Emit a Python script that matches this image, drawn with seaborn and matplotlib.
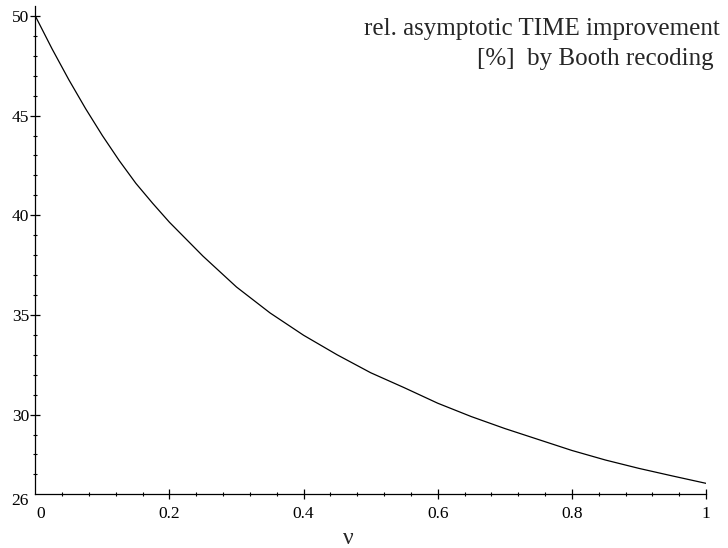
import numpy as np
import seaborn as sns
import matplotlib.pyplot as plt
import matplotlib.transforms as mtransforms
from matplotlib.ticker import MultipleLocator

# values
nu = [0.0, 0.025, 0.05, 0.075, 0.1, 0.125, 0.15, 0.175, 0.2, 0.25, 0.3, 0.35, 0.4,
      0.45, 0.5, 0.55, 0.6, 0.65, 0.7, 0.75, 0.8, 0.85, 0.9, 0.95, 1.0]
improvement = [50.0, 48.35, 46.8, 45.35, 44.0, 42.75, 41.6, 40.6, 39.65, 37.95, 36.4, 35.1, 33.98,
               33.0, 32.1, 31.35, 30.57, 29.9, 29.3, 28.75, 28.2, 27.72, 27.3, 26.92, 26.55]

x_major = [0, 0.2, 0.4, 0.6, 0.8, 1]
x_labels = ["0", "0.2", "0.4", "0.6", "0.8", "1"]
y_major = [26, 30, 35, 40, 45, 50]
y_labels = ["26", "30", "35", "40", "45", "50"]

title_lines = ["rel. asymptotic TIME improvement", "[%]  by Booth recoding "]

sns.set_style("ticks")
plt.rcParams['font.family'] = ['Liberation Serif', 'DejaVu Serif']

fig = plt.figure(figsize=(7.28, 5.48), dpi=100)
ax = fig.add_axes([0.0485, 0.098, 0.9213, 0.891])

sns.lineplot(x=nu, y=improvement, color="black", linewidth=0.9, ax=ax)

ax.set_xlim(0, 1)
ax.set_ylim(26, 50.5)
sns.despine(ax=ax)
for s in ["left", "bottom"]:
    ax.spines[s].set_linewidth(0.9)
    ax.spines[s].set_color("black")

ax.set_xticks(x_major)
ax.set_xticklabels(x_labels)
ax.set_yticks(y_major)
ax.set_yticklabels(y_labels)
ax.xaxis.set_minor_locator(MultipleLocator(0.04))
ax.yaxis.set_minor_locator(MultipleLocator(1))
ax.tick_params(which="major", direction="inout", length=7, width=0.9, labelsize=12.5, pad=1, colors="black")
ax.tick_params(which="minor", direction="inout", length=3.5, width=0.8, colors="black")
ax.tick_params(axis="x", which="major", pad=5)
# no tick mark at the corner
ax.yaxis.get_major_ticks()[0].tick1line.set_visible(False)
ax.xaxis.get_major_ticks()[0].tick1line.set_visible(False)

# corner labels sit a little off the axes, as in the original
lbl0 = ax.get_xticklabels()[0]
lbl0.set_transform(lbl0.get_transform() + mtransforms.ScaledTranslation(5 / 100, 0, fig.dpi_scale_trans))
lbl26 = ax.get_yticklabels()[0]
lbl26.set_transform(lbl26.get_transform() + mtransforms.ScaledTranslation(0, -5 / 100, fig.dpi_scale_trans))

ax.set_xlabel("")
ax.set_ylabel("")
fig.text(348 / 728, 1 - 538 / 548, "ν", ha="center", va="center", fontsize=17)

fig.text(720 / 728, 1 - 35 / 548, title_lines[0], ha="right", va="baseline", fontsize=18)
fig.text(720 / 728, 1 - 65 / 548, title_lines[1], ha="right", va="baseline", fontsize=18)

fig.savefig("out.png", dpi=100)
